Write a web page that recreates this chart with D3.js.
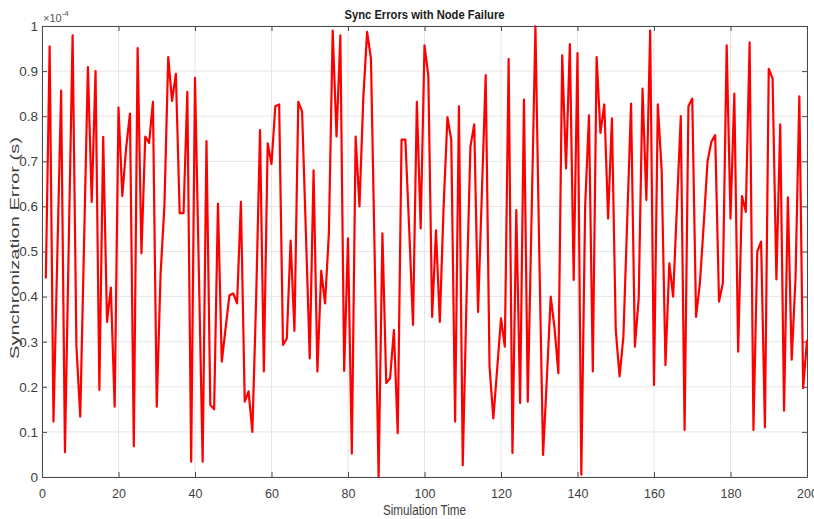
<!DOCTYPE html>
<html>
<head>
<meta charset="utf-8">
<script src="https://cdn.jsdelivr.net/npm/d3@7"></script>
<style>
    body { margin: 0; background: #fff; }
    text { font-family: "Liberation Sans", Arial, sans-serif; }
</style>
</head>
<body>
<div id="canvas"></div>
<script>
"use strict";

/*
   Data (errors in units of 1e-4 s, one per simulation step 1..200)
*/

let errorValues = [
    0.44, 0.955, 0.123, 0.49, 0.857, 0.055, 0.52, 0.979, 0.29, 0.134,
    0.52, 0.909, 0.61, 0.90, 0.193, 0.754, 0.344, 0.42, 0.156, 0.819,
    0.623, 0.73, 0.806, 0.068, 0.951, 0.496, 0.755, 0.741, 0.832, 0.156,
    0.45, 0.6, 0.931, 0.834, 0.894, 0.585, 0.585, 0.854, 0.034, 0.885,
    0.46, 0.034, 0.745, 0.16, 0.15, 0.606, 0.256, 0.33, 0.403, 0.407,
    0.385, 0.61, 0.167, 0.19, 0.1, 0.4, 0.769, 0.234, 0.74, 0.694,
    0.822, 0.826, 0.293, 0.307, 0.524, 0.324, 0.832, 0.81, 0.54, 0.263,
    0.68, 0.234, 0.457, 0.385, 0.54, 0.99, 0.755, 0.979, 0.235, 0.529,
    0.052, 0.755, 0.6, 0.84, 0.987, 0.928, 0.48, 0.0, 0.54, 0.208,
    0.219, 0.326, 0.097, 0.748, 0.748, 0.55, 0.337, 0.832, 0.551, 0.957,
    0.89, 0.355, 0.547, 0.344, 0.6, 0.798, 0.747, 0.123, 0.822, 0.026,
    0.4, 0.732, 0.782, 0.366, 0.63, 0.891, 0.245, 0.13, 0.24, 0.352,
    0.289, 0.927, 0.053, 0.592, 0.164, 0.837, 0.167, 0.58, 0.999, 0.5,
    0.049, 0.22, 0.4, 0.33, 0.23, 0.935, 0.684, 0.96, 0.437, 0.94,
    0.005, 0.6, 0.802, 0.234, 0.931, 0.763, 0.826, 0.573, 0.795, 0.326,
    0.223, 0.311, 0.57, 0.828, 0.289, 0.396, 0.861, 0.614, 0.99, 0.204,
    0.826, 0.68, 0.248, 0.474, 0.4, 0.6, 0.8, 0.104, 0.822, 0.839,
    0.355, 0.43, 0.56, 0.7, 0.743, 0.758, 0.389, 0.43, 0.957, 0.573,
    0.85, 0.278, 0.623, 0.588, 0.964, 0.104, 0.5, 0.522, 0.11, 0.905,
    0.884, 0.438, 0.782, 0.147, 0.62, 0.26, 0.44, 0.844, 0.197, 0.304
];

let xTicks = [0, 20, 40, 60, 80, 100, 120, 140, 160, 180, 200];
let yTicks = [0, 0.1, 0.2, 0.3, 0.4, 0.5, 0.6, 0.7, 0.8, 0.9, 1];

let dataset = errorValues.map((v, i) => ({ step: i + 1, error: v }));

/*
   SVG setup
*/

let svgWidth = 814;
let svgHeight = 519;

let topMargin = 26;
let rightMargin = 7;
let bottomMargin = 42;
let leftMargin = 42;

let innerWidth = svgWidth - leftMargin - rightMargin;
let innerHeight = svgHeight - topMargin - bottomMargin;

let axisColor = "#4a4a4a";
let textColor = "#404040";

let svg = d3.select("#canvas")
    .append("svg")
    .attr("width", svgWidth)
    .attr("height", svgHeight);

let chart = svg.append("g")
    .attr("transform", `translate(${leftMargin}, ${topMargin})`);

// Scales
let xScale = d3.scaleLinear()
    .domain([0, 200])
    .range([0, innerWidth]);

let yScale = d3.scaleLinear()
    .domain([0, 1])
    .range([innerHeight, 0]);

// Grid
chart.append("g")
    .selectAll("line")
    .data(xTicks)
    .join("line")
    .attr("x1", d => xScale(d))
    .attr("x2", d => xScale(d))
    .attr("y1", 0)
    .attr("y2", innerHeight)
    .attr("stroke", "#e6e6e6");

chart.append("g")
    .selectAll("line")
    .data(yTicks)
    .join("line")
    .attr("x1", 0)
    .attr("x2", innerWidth)
    .attr("y1", d => yScale(d))
    .attr("y2", d => yScale(d))
    .attr("stroke", "#e6e6e6");

// Axes (ticks pointing inward, box on all sides)
function styleAxis(g) {
    g.select(".domain").attr("stroke", axisColor);
    g.selectAll(".tick line").attr("stroke", axisColor);
    g.selectAll(".tick text")
        .attr("fill", textColor)
        .attr("font-family", "'Liberation Sans', Arial, sans-serif");
}

chart.append("g")
    .attr("transform", `translate(0, ${innerHeight})`)
    .call(d3.axisBottom(xScale)
        .tickValues(xTicks)
        .tickSizeInner(-5)
        .tickSizeOuter(0)
        .tickPadding(12))
    .call(styleAxis)
    .selectAll(".tick text")
    .attr("font-size", 12.5);

// top and right: ticks only, no labels
chart.append("g")
    .call(d3.axisTop(xScale)
        .tickValues(xTicks)
        .tickSizeInner(-5)
        .tickSizeOuter(0))
    .call(styleAxis)
    .selectAll(".tick text").remove();

chart.append("g")
    .call(d3.axisLeft(yScale)
        .tickValues(yTicks)
        .tickFormat(d3.format("~g"))
        .tickSizeInner(-5)
        .tickSizeOuter(0)
        .tickPadding(4))
    .call(styleAxis)
    .selectAll(".tick text")
    .attr("font-size", 13.5);

chart.append("g")
    .attr("transform", `translate(${innerWidth}, 0)`)
    .call(d3.axisRight(yScale)
        .tickValues(yTicks)
        .tickSizeInner(-5)
        .tickSizeOuter(0))
    .call(styleAxis)
    .selectAll(".tick text").remove();

// Error line
chart.append("path")
    .datum(dataset)
    .attr("fill", "none")
    .attr("stroke", "#ff0000")
    .attr("stroke-width", 2.2)
    .attr("stroke-linejoin", "round")
    .attr("d", d3.line()
        .x(d => xScale(d.step))
        .y(d => yScale(d.error)));

// Exponent label
let expLabel = chart.append("text")
    .attr("x", 1)
    .attr("y", -4)
    .attr("fill", "#555")
    .attr("font-size", 11);
expLabel.append("tspan").text("\u00d710");
expLabel.append("tspan")
    .attr("dy", -6)
    .attr("font-size", 8)
    .text("-4");

// Title
svg.append("text")
    .attr("x", leftMargin + innerWidth / 2)
    .attr("y", 19)
    .attr("text-anchor", "middle")
    .attr("font-weight", "bold")
    .attr("font-size", 12)
    .attr("fill", "#1a1a1a")
    .attr("textLength", 160)
    .attr("lengthAdjust", "spacingAndGlyphs")
    .text("Sync Errors with Node Failure");

// Axis labels
svg.append("text")
    .attr("x", leftMargin + innerWidth / 2)
    .attr("y", 515)
    .attr("text-anchor", "middle")
    .attr("font-size", 14)
    .attr("fill", textColor)
    .attr("textLength", 83)
    .attr("lengthAdjust", "spacingAndGlyphs")
    .text("Simulation Time");

svg.append("text")
    .attr("transform", "rotate(-90)")
    .attr("x", -248)
    .attr("y", 19)
    .attr("text-anchor", "middle")
    .attr("font-size", 12)
    .attr("fill", textColor)
    .attr("textLength", 222)
    .attr("lengthAdjust", "spacingAndGlyphs")
    .text("Synchronization Error (s)");
</script>
</body>
</html>
